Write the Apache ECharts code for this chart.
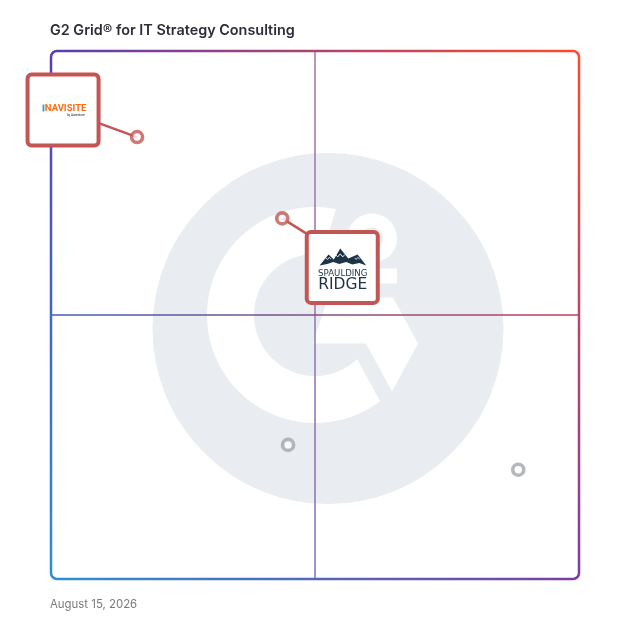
<!DOCTYPE html>
<html><head><meta charset="utf-8">
<script src="https://cdn.jsdelivr.net/npm/echarts@6/dist/echarts.min.js"></script>
<style>html,body{margin:0;padding:0;background:#fff}#c{width:628px;height:628px}</style>
</head><body><div id="c"></div>
<script>
// ---------- data ----------
const titleText = 'G2 Grid® for IT Strategy Consulting';
const dateText = 'August 15, 2026';
const vendors = ['INAVISITE', 'Spaulding Ridge', 'Vendor C', 'Vendor D'];
const satisfaction = [16.3, 43.8, 44.9, 88.5];      // x axis values
const marketPresence = [83.7, 68.3, 25.4, 20.7];    // y axis values
const featured = [true, true, false, false];
const axisMin = 0, axisMax = 100, midValue = 50;

// ---------- styles ----------
const RED = '#c25655', GREY = '#a1a5af';
const cTL = '#5a3db3', cTR = '#ff4b2a', cBR = '#7c3ea3', cBL = '#2b8fd6';

const chart = echarts.init(document.getElementById('c'), null, {renderer: 'canvas'});
chart.setOption({
  animation: false,
  title: [
    {text: titleText, left: 50, top: 24, padding: 0, textStyle: {fontFamily: 'Inter', fontSize: 14.4, fontWeight: 600, color: '#2c2e3a'}},
    {text: dateText, left: 50, top: 599, padding: 0, textStyle: {fontFamily: 'Inter', fontSize: 11.4, fontWeight: 400, color: '#7a7a7a'}}
  ],
  grid: {left: 51, right: 49, top: 51, bottom: 49},
  xAxis: {type: 'value', min: axisMin, max: axisMax, show: false},
  yAxis: {type: 'value', min: axisMin, max: axisMax, show: false},
  series: [{
    type: 'scatter', z: 5, symbol: 'circle', symbolSize: 11,
    data: vendors.map((n, i) => ({
      name: n, value: [satisfaction[i], marketPresence[i]],
      itemStyle: {color: '#fff', borderColor: featured[i] ? RED : GREY, borderWidth: 3.6}
    }))
  }]
});

const px = v => chart.convertToPixel({gridIndex: 0}, v);
const tl = px([axisMin, axisMax]), br = px([axisMax, axisMin]), ctr = px([midValue, midValue]);
const x0 = tl[0], y0 = tl[1], x1 = br[0], y1 = br[1];
const lg = (ax, ay, bx, by, c1, c2) => ({type: 'linear', x: ax, y: ay, x2: bx, y2: by, global: true,
  colorStops: [{offset: 0, color: c1}, {offset: 1, color: c2}]});

const g = [];
// watermark G2 logo
function arcPts(cx, cy, R, a0, a1, n) {
  const p = [];
  for (let i = 0; i <= n; i++) { const a = (a0 + (a1 - a0) * i / n) * Math.PI / 180; p.push([cx + R * Math.cos(a), cy - R * Math.sin(a)]); }
  return p;
}
const ringPts = arcPts(0, 0, 108, 78.8, 307.1, 80).concat(arcPts(0, 0, 61, 313.7, 83.3, 80));
g.push({type: 'group', x: ctr[0], y: ctr[1], z: 0, children: [
  {type: 'circle', z: 0, shape: {cx: 13, cy: 13.5, r: 175.5}, style: {fill: '#e9ecf0'}},
  {type: 'polygon', z: 0, shape: {points: ringPts}, style: {fill: '#fff'}},
  {type: 'polygon', z: 0, shape: {points: [[13, -17.5], [78, -17.5], [103, 28.5], [77, 76.5], [51, 28.5], [-2, 28.5]]}, style: {fill: '#fff'}},
  {type: 'sector', z: 0, shape: {cx: 57, cy: -76.5, r0: 11, r: 25, startAngle: Math.PI * 0.95, endAngle: Math.PI * 2.25, clockwise: true}, style: {fill: '#fff'}},
  {type: 'polygon', z: 0, shape: {points: [[64.8, -68.7], [74.7, -58.8], [52, -46.5], [32, -46.5]]}, style: {fill: '#fff'}},
  {type: 'rect', z: 0, shape: {x: 32, y: -46.5, width: 50, height: 15}, style: {fill: '#fff'}}
]});

// quadrant lines
g.push({type: 'line', z: 1, shape: {x1: ctr[0], y1: y0, x2: ctr[0], y2: y1},
  style: {stroke: lg(0, y0, 0, y1, '#ad7aa8', '#8678c8'), lineWidth: 1.6}});
g.push({type: 'line', z: 1, shape: {x1: x0, y1: ctr[1], x2: x1, y2: ctr[1]},
  style: {stroke: lg(x0, 0, x1, 0, '#3d5fb5', '#c43f55'), lineWidth: 1.6}});

// frame with gradient edges and rounded corners
const r = 6, fw = 2.5;
g.push({type: 'line', z: 2, shape: {x1: x0 + r, y1: y0, x2: x1 - r, y2: y0}, style: {stroke: lg(x0, 0, x1, 0, cTL, cTR), lineWidth: fw}});
g.push({type: 'line', z: 2, shape: {x1: x1, y1: y0 + r, x2: x1, y2: y1 - r}, style: {stroke: lg(0, y0, 0, y1, cTR, cBR), lineWidth: fw}});
g.push({type: 'line', z: 2, shape: {x1: x0 + r, y1: y1, x2: x1 - r, y2: y1}, style: {stroke: lg(x0, 0, x1, 0, cBL, cBR), lineWidth: fw}});
g.push({type: 'line', z: 2, shape: {x1: x0, y1: y0 + r, x2: x0, y2: y1 - r}, style: {stroke: lg(0, y0, 0, y1, cTL, cBL), lineWidth: fw}});
const P = Math.PI;
[[x0 + r, y0 + r, P, 1.5 * P, cTL], [x1 - r, y0 + r, 1.5 * P, 2 * P, cTR], [x1 - r, y1 - r, 0, 0.5 * P, cBR], [x0 + r, y1 - r, 0.5 * P, P, cBL]]
  .forEach(a => g.push({type: 'arc', z: 2, shape: {cx: a[0], cy: a[1], r: r, startAngle: a[2], endAngle: a[3], clockwise: true},
    style: {stroke: a[4], lineWidth: fw, fill: null}}));

// logo boxes (label callouts)
const boxOffset = [[-74, -27], [60, 49]];
const lineEnd = [[0, 0], [-33, -32]];
const BOX = 75;
function logoBox(i, content) {
  const p = px([satisfaction[i], marketPresence[i]]);
  const bx = p[0] + boxOffset[i][0], by = p[1] + boxOffset[i][1];
  g.push({type: 'line', z: 3, shape: {x1: p[0], y1: p[1], x2: bx + lineEnd[i][0], y2: by + lineEnd[i][1]}, style: {stroke: RED, lineWidth: 2.5}});
  g.push({type: 'group', x: bx, y: by, z: 6, children: [
    {type: 'rect', z: 6, shape: {x: -BOX / 2 + 2, y: -BOX / 2 + 2, width: BOX - 4, height: BOX - 4, r: 4}, style: {fill: '#fff', stroke: RED, lineWidth: 4}}
  ].concat(content)});
}
logoBox(0, [
  {type: 'rect', z: 7, shape: {x: -20.5, y: -5.5, width: 1.8, height: 7}, style: {fill: '#2aa3dc'}},
  {type: 'text', z: 7, x: -18.2, y: -1.8, style: {text: 'NAVISITE', font: 'bold 9.5px Roboto', fill: '#ff6a14', textAlign: 'left', textVerticalAlign: 'middle'}},
  {type: 'text', z: 7, x: 21.5, y: 5.3, style: {text: 'by Accenture', font: '3px Roboto', fill: '#222', textAlign: 'right', textVerticalAlign: 'middle'}}
]);
logoBox(1, [
  {type: 'polygon', z: 7, shape: {points: [[-22.7, -2], [-13.7, -13], [-8.5, -8], [-2, -19], [6, -9], [15.3, -13], [24, -2], [17, -4.5], [10, -3], [4, -5.5], [-3, -3.5], [-9, -5.5], [-15, -3.5]]}, style: {fill: '#1d3447'}},
  {type: 'polyline', z: 8, shape: {points: [[-6.5, -12.5], [-4.5, -10.5], [-2, -13.5], [0.5, -10.5], [2.5, -12.8]]}, style: {stroke: '#fff', lineWidth: 0.9, fill: null}},
  {type: 'polyline', z: 8, shape: {points: [[-16.5, -9.3], [-14.5, -8], [-13, -10], [-11.3, -8.3]]}, style: {stroke: '#fff', lineWidth: 0.8, fill: null}},
  {type: 'polyline', z: 8, shape: {points: [[12.5, -9.5], [14, -8], [15.5, -10], [17.5, -8.3]]}, style: {stroke: '#fff', lineWidth: 0.8, fill: null}},
  {type: 'text', z: 7, x: 0.5, y: 6.5, style: {text: 'SPAULDING', font: '8.6px "DejaVu Sans"', fill: '#1d3447', textAlign: 'center', textVerticalAlign: 'middle'}},
  {type: 'text', z: 7, x: 0.5, y: 17.5, style: {text: 'RIDGE', font: '15.5px "DejaVu Sans"', fill: '#1d3447', textAlign: 'center', textVerticalAlign: 'middle'}}
]);

chart.setOption({graphic: g});
</script></body></html>
